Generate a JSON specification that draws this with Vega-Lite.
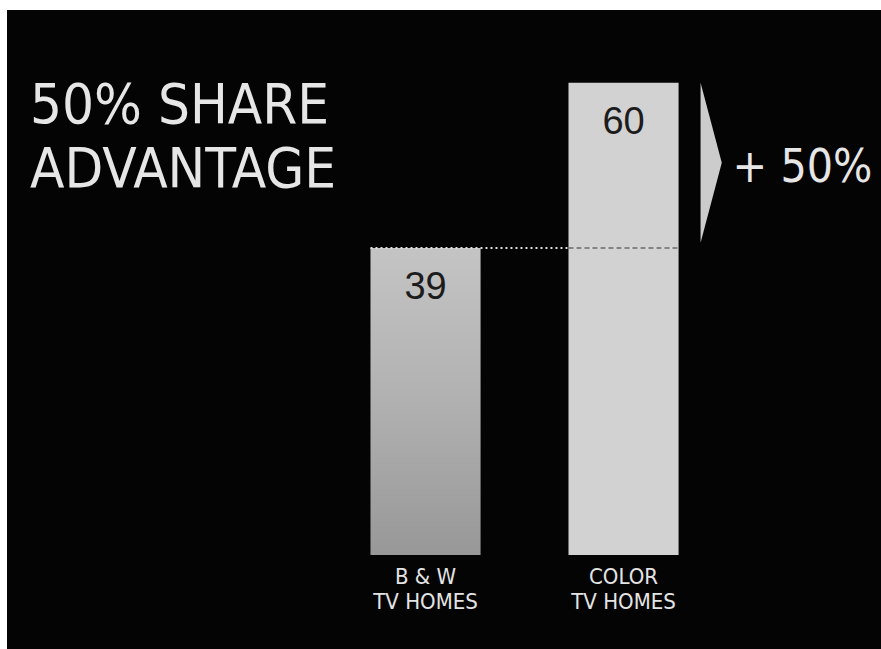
{
  "$schema": "https://vega.github.io/schema/vega-lite/v6.json",
  "width": 881,
  "height": 649,
  "autosize": {"type": "fit", "contains": "padding"},
  "padding": {"top": 10, "left": 7, "right": 0, "bottom": 0},
  "background": "#ffffff",
  "config": {"view": {"fill": "#040404", "stroke": null}},
  "title": {
    "text": ["50% SHARE", "ADVANTAGE"],
    "anchor": "start",
    "frame": "group",
    "orient": "top",
    "baseline": "top",
    "offset": 0,
    "dx": 23,
    "dy": 189,
    "font": "Liberation Sans Narrow, DejaVu Sans Condensed, sans-serif",
    "fontSize": 56,
    "fontWeight": "normal",
    "color": "#e6e6e6",
    "lineHeight": 64
  },
  "data": {
    "values": [
      {"homes": "B&W", "label": "B & W\nTV HOMES", "share": 39},
      {"homes": "COLOR", "label": "COLOR\nTV HOMES", "share": 60, "change": "+ 50%"}
    ]
  },
  "encoding": {
    "x": {
      "field": "homes", "type": "nominal", "sort": null, "axis": null,
      "scale": {"domain": ["B&W", "COLOR", ""], "paddingInner": 0.444, "paddingOuter": 0.929, "align": 0.988}
    },
    "y": {
      "field": "share", "type": "quantitative", "axis": null,
      "scale": {"domain": [-11.94, 69.25], "nice": false, "zero": false}
    }
  },
  "layer": [
    {
      "transform": [{"filter": "datum.homes === 'B&W'"}],
      "mark": {
        "type": "bar",
        "fill": {
          "gradient": "linear", "x1": 0, "y1": 0, "x2": 0, "y2": 1,
          "stops": [
            {"offset": 0, "color": "#c4c4c4"},
            {"offset": 0.45, "color": "#b3b3b3"},
            {"offset": 1, "color": "#989898"}
          ]
        }
      },
      "encoding": {"y2": {"datum": 0}}
    },
    {
      "transform": [{"filter": "datum.homes === 'COLOR'"}],
      "mark": {"type": "bar", "fill": "#d2d2d2"},
      "encoding": {"y2": {"datum": 0}}
    },
    {
      "data": {"values": [{"from": "B&W", "to": "COLOR", "level": 39}]},
      "mark": {"type": "rule", "color": "#dddddd", "strokeDash": [2, 3], "strokeWidth": 2},
      "encoding": {
        "x": {"field": "from", "type": "nominal", "bandPosition": 0,
              "scale": {"domain": ["B&W", "COLOR", ""], "paddingInner": 0.444, "paddingOuter": 0.929, "align": 0.988}},
        "x2": {"field": "to", "bandPosition": 1},
        "y": {"field": "level", "type": "quantitative",
              "scale": {"domain": [-11.94, 69.25], "nice": false, "zero": false}}
      }
    },
    {
      "data": {"values": [{"from": "COLOR", "to": "COLOR", "level": 39}]},
      "mark": {"type": "rule", "color": "#6a6a6a", "strokeDash": [5, 3], "strokeWidth": 1.5},
      "encoding": {
        "x": {"field": "from", "type": "nominal", "bandPosition": 0,
              "scale": {"domain": ["B&W", "COLOR", ""], "paddingInner": 0.444, "paddingOuter": 0.929, "align": 0.988}},
        "x2": {"field": "to", "bandPosition": 1},
        "y": {"field": "level", "type": "quantitative",
              "scale": {"domain": [-11.94, 69.25], "nice": false, "zero": false}}
      }
    },
    {
      "mark": {"type": "text", "baseline": "middle", "dy": 40, "font": "Liberation Sans, sans-serif", "fontSize": 38, "color": "#1c1c1c"},
      "encoding": {"text": {"field": "share"}}
    },
    {
      "mark": {"type": "text", "baseline": "top", "dy": 12, "lineBreak": "\n", "lineHeight": 25, "font": "Liberation Sans Narrow, DejaVu Sans Condensed, sans-serif", "fontSize": 22, "color": "#e4e4e4"},
      "encoding": {"y": {"datum": 0}, "text": {"field": "label"}}
    },
    {
      "transform": [{"filter": "datum.homes === 'COLOR'"}],
      "mark": {"type": "point", "shape": "M 0.275 0 L 0.54 1 L 0.275 2 Z", "size": 25600, "filled": true, "color": "#cccccc", "opacity": 1, "strokeWidth": 0},
      "encoding": {"x": {"field": "homes", "type": "nominal", "bandPosition": 1}}
    },
    {
      "transform": [{"filter": "datum.homes === 'COLOR'"}],
      "mark": {"type": "text", "align": "left", "baseline": "middle", "dx": 54, "dy": 85, "clip": true, "font": "Liberation Sans Narrow, DejaVu Sans Condensed, sans-serif", "fontSize": 46, "color": "#e6e6e6"},
      "encoding": {"x": {"field": "homes", "type": "nominal", "bandPosition": 1}, "text": {"field": "change"}}
    }
  ]
}
